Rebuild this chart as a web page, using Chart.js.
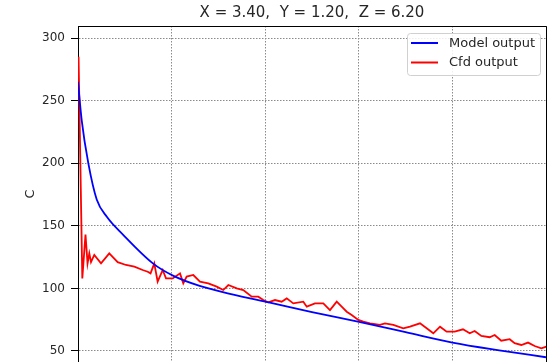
<!DOCTYPE html>
<html><head><meta charset="utf-8">
<script src="https://cdn.jsdelivr.net/npm/chart.js@4.4.1/dist/chart.umd.min.js"></script>
<style>html,body{margin:0;padding:0;background:#fff;overflow:hidden}#wrap{width:548px;height:362px}</style>
</head><body><div id="wrap"><canvas id="c" width="548" height="362" style="width:548px;height:362px"></canvas></div>
<script>
const titleText = 'X = 3.40,  Y = 1.20,  Z = 6.20';
const yAxisLabel = 'C';
const seriesNames = ['Model output', 'Cfd output'];
const yTicks = [50, 100, 150, 200, 250, 300];
const xTicks = [0, 100, 200, 300, 400, 500];

const modelX = [0, 4, 11, 20, 31, 48, 80, 102, 130, 166, 205, 250, 299, 350, 400, 450, 500];
const modelY = [265, 234, 200, 171, 157, 143, 120, 110, 102, 95, 88.6, 81, 73.4, 65, 56.7, 50.5, 45];

const cfdX = [0.6, 4.6, 8, 10.2, 12.1, 13.9, 17.4, 24.6, 33.4, 42.4, 51.3, 60.2, 69.1, 74.5, 77.5, 81.5, 85.1, 90.5, 94, 101.2, 109, 112.5, 116.1, 123.2, 130.3, 139.2, 148.2, 155.2, 160.6, 169.6, 176.6, 185.6, 192.6, 198, 203.3, 210.5, 217.6, 223, 230, 240.7, 244.4, 253.2, 262.1, 269.2, 276.4, 281.7, 287.1, 292.4, 299.5, 304.8, 312, 322.6, 328, 336.9, 347.5, 354.7, 365.4, 372.5, 379.6, 386.8, 393.9, 402.5, 411.3, 418.5, 423.8, 430.9, 439.8, 445.2, 452.2, 461.2, 466.5, 473.6, 480.8, 487.9, 495, 500.3];
const cfdY = [285, 108, 143, 120, 128, 121, 126.7, 120, 128, 121, 118.7, 117.3, 114.7, 113.3, 112, 120, 105.4, 114.7, 108, 108, 112, 104, 109.4, 110.7, 105.4, 104, 101.4, 98.7, 102.7, 100, 98.7, 93.4, 93.4, 90.7, 88.9, 90.7, 89.4, 92, 88, 89.4, 85.4, 88, 88, 82.7, 89.4, 85.4, 81.4, 78.8, 74.8, 73.4, 72.1, 70.8, 72.1, 70.8, 68.1, 69.4, 72.1, 68.1, 64.1, 69.4, 65.4, 65.4, 67.3, 64.1, 66, 62, 61, 62.8, 58.2, 59.4, 56.2, 54.8, 56.7, 54, 52.1, 53.4];

const FONT = "'DejaVu Sans', sans-serif";
const TXT = '#262626';
const GRID = '#8a8a8a';

const framePlugin = {
  id: 'frame',
  afterDraw(chart) {
    const ctx = chart.ctx, a = chart.chartArea;
    ctx.save();
    ctx.strokeStyle = '#000';
    ctx.lineWidth = 1;
    ctx.beginPath();
    ctx.moveTo(a.left, a.top + 0.5);
    ctx.lineTo(a.right + 0.5, a.top + 0.5);
    ctx.lineTo(a.right + 0.5, a.bottom);
    ctx.stroke();
    // title
    ctx.fillStyle = TXT;
    ctx.font = '15px ' + FONT;
    ctx.textAlign = 'center';
    ctx.textBaseline = 'middle';
    ctx.fillText(titleText, (a.left + a.right) / 2, 13);
    // legend
    const w = 133, h = 42;
    const x = a.right - 6 - w, y = a.top + 7;
    ctx.fillStyle = 'rgba(255,255,255,0.85)';
    ctx.strokeStyle = '#d0d0d0';
    ctx.beginPath();
    ctx.roundRect(x + 0.5, y + 0.5, w, h, 3);
    ctx.fill();
    ctx.stroke();
    ctx.font = '13px ' + FONT;
    ctx.textAlign = 'left';
    chart.data.datasets.forEach((ds, i) => {
      const ly = y + 10 + i * 19.5;
      ctx.strokeStyle = ds.borderColor;
      ctx.lineWidth = 2;
      ctx.beginPath();
      ctx.moveTo(x + 4, ly);
      ctx.lineTo(x + 31, ly);
      ctx.stroke();
      ctx.fillStyle = TXT;
      ctx.fillText(ds.label, x + 42, ly + 0.5);
    });
    ctx.restore();
  }
};

new Chart(document.getElementById('c'), {
  type: 'line',
  data: {
    datasets: [
      { label: seriesNames[0], data: modelX.map((x, i) => ({x, y: modelY[i]})), borderColor: '#0000ff', borderWidth: 1.8, pointRadius: 0, cubicInterpolationMode: 'monotone', fill: false },
      { label: seriesNames[1], data: cfdX.map((x, i) => ({x, y: cfdY[i]})), borderColor: '#ff0000', borderWidth: 1.8, pointRadius: 0, tension: 0, fill: false }
    ]
  },
  options: {
    responsive: false,
    animation: false,
    devicePixelRatio: 1,
    layout: { padding: { top: 26, right: 2, bottom: 0, left: 0 } },
    plugins: { legend: { display: false }, title: { display: false }, tooltip: { enabled: false } },
    scales: {
      x: {
        type: 'linear', min: 0, max: 500,
        afterBuildTicks: s => { s.ticks = xTicks.map(v => ({value: v})); },
        ticks: { display: false },
        grid: { color: GRID, lineWidth: 1, drawTicks: false },
        border: { display: false, dash: [1.5, 1.5] },
        afterFit: s => { s.height = 0; s.paddingLeft = 0; s.paddingRight = 0; }
      },
      y: {
        type: 'linear', min: 41.2, max: 309.6,
        afterBuildTicks: s => { s.ticks = yTicks.map(v => ({value: v})); },
        ticks: { color: TXT, font: { family: FONT, size: 12 }, padding: 6 },
        grid: { color: GRID, lineWidth: 1, drawTicks: true, tickLength: 7, tickColor: '#000', tickBorderDash: [] },
        border: { display: true, color: '#000', width: 1, dash: [1.5, 1.5] },
        title: { display: true, text: yAxisLabel, color: TXT, font: { family: FONT, size: 13 }, padding: { top: 23, bottom: 0 } },
        afterFit: s => { s.width = 78; s.paddingTop = 0; s.paddingBottom = 0; }
      }
    }
  },
  plugins: [framePlugin]
});
</script>
</body></html>
